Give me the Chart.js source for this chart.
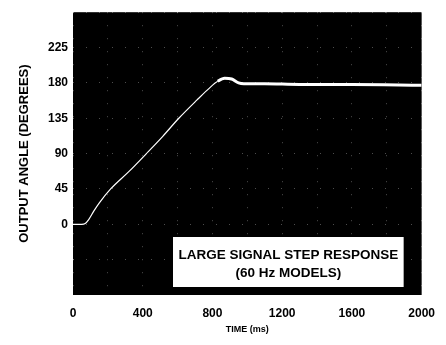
<!DOCTYPE html>
<html>
<head>
<meta charset="utf-8">
<script src="https://cdn.jsdelivr.net/npm/chart.js@4/dist/chart.umd.min.js"></script>
<style>
  body { margin: 0; background: #fff; }
  #wrap { width: 446px; height: 345px; }
</style>
</head>
<body>
<div id="wrap"><canvas id="stepChart" width="446" height="345"></canvas></div>
<script>
// time (ms) and output angle (degrees)
const timeMs = [0, 50, 70, 90, 120, 150, 216, 320, 421, 515, 607, 710, 790, 830, 870, 910, 950, 980, 1100, 1300, 1600, 2000];
const angleDeg = [0, 0, 1, 6, 17, 27, 45, 67, 90, 112, 135, 158, 175, 182, 186, 185, 180, 179, 179, 178, 178, 177];
const xTickLabels = [0, 400, 800, 1200, 1600, 2000];
const yTickLabels = [0, 45, 90, 135, 180, 225];
const boxLines = ['LARGE SIGNAL STEP RESPONSE', '(60 Hz MODELS)'];

const points = timeMs.map((t, i) => ({ x: t, y: angleDeg[i] }));

// black plot background + white caption box
const plotPaint = {
  id: 'plotPaint',
  beforeDraw(chart) {
    const { ctx, chartArea: a } = chart;
    ctx.save();
    ctx.fillStyle = '#000';
    ctx.fillRect(a.left, a.top, a.right - a.left, a.bottom - a.top);
    ctx.restore();
  },
  afterDatasetsDraw(chart) {
    const { ctx, chartArea: a } = chart;
    const x0 = a.left + 100, x1 = a.right - 18;
    const y0 = a.bottom - 58, y1 = a.bottom - 8;
    ctx.save();
    ctx.fillStyle = '#fff';
    ctx.fillRect(x0, y0, x1 - x0, y1 - y0);
    ctx.fillStyle = '#000';
    ctx.font = 'bold 13.5px "Liberation Sans", Arial, sans-serif';
    ctx.textAlign = 'center';
    ctx.textBaseline = 'middle';
    const cx = (x0 + x1) / 2;
    ctx.fillText(boxLines[0], cx, y0 + 18);
    ctx.fillText(boxLines[1], cx, y0 + 36);
    ctx.restore();
  }
};

new Chart(document.getElementById('stepChart'), {
  type: 'scatter',
  data: {
    datasets: [{
      data: points,
      showLine: true,
      borderColor: '#fff',
      borderWidth: 1.2,
      pointRadius: 0,
      cubicInterpolationMode: 'monotone',
      segment: {
        borderWidth: c => (c.p0.parsed.x >= 830 ? 3 : 1.2)
      }
    }]
  },
  options: {
    responsive: false,
    animation: false,
    layout: { padding: { top: 12, right: 15, left: 0, bottom: 0 } },
    plugins: { legend: { display: false }, tooltip: { enabled: false } },
    scales: {
      x: {
        type: 'linear',
        min: 0,
        max: 2000,
        afterFit: s => { s.height = 50; },
        ticks: {
          stepSize: 200,
          padding: 11,
          color: '#000',
          font: { family: '"Liberation Sans", Arial, sans-serif', size: 12, weight: 'bold' },
          maxRotation: 0,
          callback: v => (xTickLabels.includes(v) ? String(v) : '')
        },
        grid: { color: 'rgba(255,255,255,0.3)', drawTicks: false },
        border: { display: false, dash: [1, 12] },
        title: {
          display: true,
          text: 'TIME (ms)',
          color: '#000',
          font: { family: '"Liberation Sans", Arial, sans-serif', size: 9, weight: 'bold' },
          padding: { bottom: 10 }
        }
      },
      y: {
        min: -90,
        max: 270,
        afterFit: s => { s.width = 73; },
        ticks: {
          stepSize: 45,
          padding: 5,
          color: '#000',
          font: { family: '"Liberation Sans", Arial, sans-serif', size: 12, weight: 'bold' },
          callback: v => (yTickLabels.includes(v) ? String(v) : '')
        },
        grid: { color: 'rgba(255,255,255,0.3)', drawTicks: false },
        border: { display: false, dash: [1, 12] },
        title: {
          display: true,
          text: 'OUTPUT ANGLE (DEGREES)',
          color: '#000',
          font: { family: '"Liberation Sans", Arial, sans-serif', size: 13, weight: 'bold' },
          padding: { top: 17 }
        }
      }
    }
  },
  plugins: [plotPaint]
});
</script>
</body>
</html>
